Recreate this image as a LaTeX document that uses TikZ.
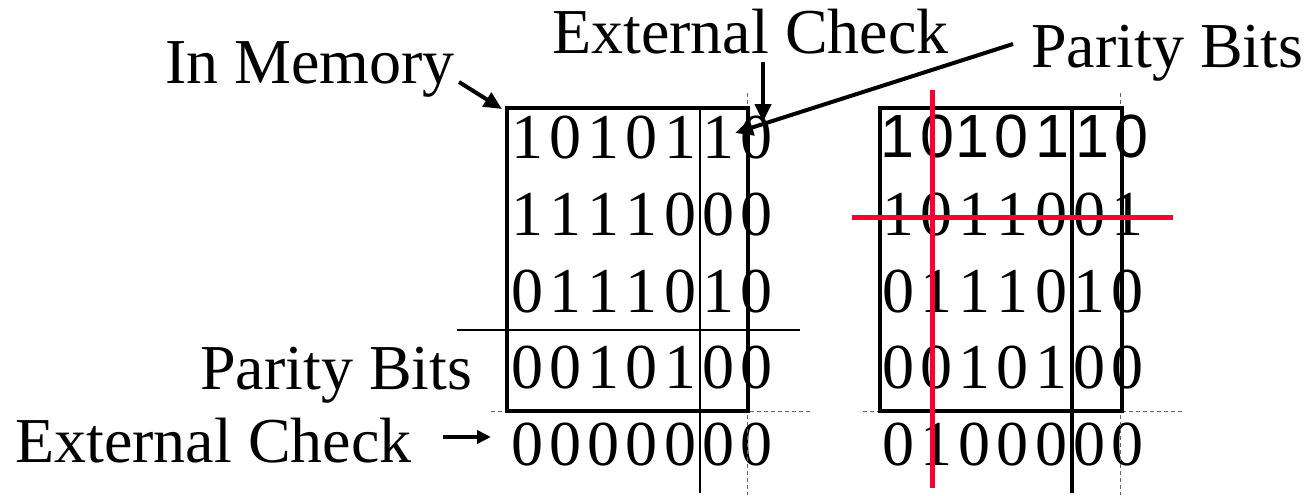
\documentclass[tikz,border=0pt]{standalone}
\usepackage{fontspec}
\setmainfont{Liberation Serif}
\newfontfamily\sansdig{Liberation Sans}
\usetikzlibrary{arrows.meta}
\definecolor{parityred}{RGB}{250,0,50}
\begin{document}
\begin{tikzpicture}[x=1pt,y=-1pt,
  lbl/.style={font=\fontsize{64}{64}\selectfont, inner sep=0pt, anchor=base west},
  dig/.style={font=\fontsize{64}{64}\selectfont, inner sep=0pt, anchor=base},
  sdig/.style={font=\sansdig\fontsize{61}{61}\selectfont, inner sep=0pt, anchor=base},
  boxline/.style={line width=4pt},
  thinline/.style={line width=1.2pt},
  dshline/.style={line width=1pt, draw=gray!80!black, dash pattern=on 4pt off 3pt},
  redline/.style={line width=5pt, draw=parityred},
  pointer/.style={line width=4pt, -{Triangle[length=18pt,width=16pt]}},
  smallpointer/.style={line width=3.5pt, -{Triangle[length=14pt,width=13pt]}},
]
\useasboundingbox (0,0) rectangle (1308,495);

% ---------- labels ----------
\node[lbl] (inmem) at (165,83) {In Memory};
\node[lbl] (extTop) at (552,53) {External Check};
\node[lbl] (parTop) at (1031,67) {Parity Bits};
\node[lbl] (parLeft) at (200,389) {Parity Bits};
\node[lbl] (extLeft) at (15,462) {External Check};

% ---------- left matrix digits ----------
\foreach \row/\yy/\bits in {1/158/{1,0,1,0,1,1,0},2/235/{1,1,1,1,0,0,0},3/312/{0,1,1,1,0,1,0},4/388/{0,0,1,0,1,0,0},5/465/{0,0,0,0,0,0,0}}{
  \foreach \b [count=\c] in \bits {
    \node[dig] (L\row-\c) at ({527+38.3*(\c-1)},\yy) {\b};
  }
}
% ---------- right matrix digits ----------
\foreach \b/\xx [count=\c] in {1/897,0/937,1/972,0/1011,1/1052,1/1092,0/1131}{
  \node[sdig] (R1-\c) at (\xx,157) {\b};
}
\foreach \row/\yy/\bits in {2/235/{1,0,1,1,0,0,1},3/312/{0,1,1,1,0,1,0},4/388/{0,0,1,0,1,0,0},5/465/{0,1,0,0,0,0,0}}{
  \foreach \b [count=\c] in \bits {
    \node[dig] (R\row-\c) at ({898+38.3*(\c-1)},\yy) {\b};
  }
}

% ---------- left matrix frame ----------
\coordinate (LBnw) at (507,108);
\coordinate (LBse) at (748,411);
\coordinate (LVtop) at (700,108);
\coordinate (LVbot) at (700,493);
\coordinate (LHl) at (457,330);
\coordinate (LHr) at (800,330);
\coordinate (LDVtop) at (747,93);
\coordinate (LDVbot) at (747,495);
\coordinate (LDHl) at (491,411);
\coordinate (LDHr) at (810,411);
\draw[dshline] (LDVtop) -- (LDVbot);
\draw[dshline] (LDHl) -- (LDHr);
\draw[thinline] (LVtop) -- (LVbot);
\draw[thinline] (LHl) -- (LHr);
\draw[boxline] (LBnw) rectangle (LBse);

% ---------- right matrix frame ----------
\coordinate (RBnw) at (880,108);
\coordinate (RBse) at (1122,411);
\coordinate (RVtop) at (1072,108);
\coordinate (RVbot) at (1072,493);
\coordinate (RDVtop) at (1120,93);
\coordinate (RDVbot) at (1120,495);
\coordinate (RDHl) at (863,411);
\coordinate (RDHr) at (1185,411);
\draw[dshline] (RDVtop) -- (RDVbot);
\draw[dshline] (RDHl) -- (RDHr);
\draw[boxline] (RBnw) rectangle (RBse);
\draw[boxline] (RVtop) -- (RVbot);

% ---------- red error lines ----------
\coordinate (RedVtop) at (932,90);
\coordinate (RedVbot) at (932,488);
\coordinate (RedHl) at (852,217);
\coordinate (RedHr) at (1173,217);
\draw[redline] (RedVtop) -- (RedVbot);
\draw[redline] (RedHl) -- (RedHr);

% ---------- pointers ----------
\coordinate (inmemTail) at (459,82);
\coordinate (inmemTip) at (502,109);
\draw[pointer] (inmemTail) -- (inmemTip);
\coordinate (extTopTail) at (763,62);
\coordinate (extTopTip) at (763,122);
\draw[pointer] (extTopTail) -- (extTopTip);
\coordinate (parTopTail) at (1013,44);
\coordinate (parTopTip) at (735,133);
\draw[pointer] (parTopTail) -- (parTopTip);
\coordinate (extLeftTail) at (443,437);
\coordinate (extLeftTip) at (491,437);
\draw[smallpointer] (extLeftTail) -- (extLeftTip);
\end{tikzpicture}
\end{document}
